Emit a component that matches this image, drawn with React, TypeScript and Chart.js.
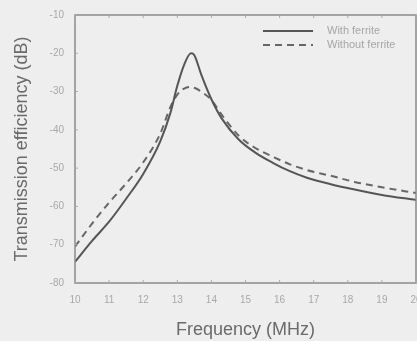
import React, { useEffect, useRef } from "react";
import { Chart, registerables } from "chart.js";

Chart.register(...registerables);

const freqs = [10, 10.5, 11, 11.5, 12, 12.5, 12.8, 13.0, 13.2, 13.4, 13.5, 13.7, 14.0, 14.3, 14.8, 15.3, 15.8, 16.3, 16.8, 17.5, 18.2, 19, 20];
const withFerrite = [-74.5, -69, -64, -58, -51.5, -43, -35.5, -28.5, -23, -20, -20.5, -25.5, -32, -37, -42.5, -46, -48.6, -50.8, -52.5, -54.2, -55.6, -57, -58.3];
const withoutFerrite = [-70.5, -64.5, -59, -54, -48.5, -41, -34, -30.8, -29.2, -28.8, -29, -30, -32.2, -36, -41.5, -44.8, -47, -49, -50.5, -52, -53.6, -55, -56.5];
const seriesNames = ["With ferrite", "Without ferrite"];
const xTicks = [10, 11, 12, 13, 14, 15, 16, 17, 18, 19, 20];
const yTicks = [-10, -20, -30, -40, -50, -60, -70, -80];

const FONT = "'Liberation Sans', Arial, sans-serif";

export default function App() {
  const ref = useRef<HTMLCanvasElement | null>(null);
  useEffect(() => {
    if (!ref.current) return;
    const framePlugin = {
      id: "frame",
      beforeDraw(chart: any) {
        const ctx = chart.ctx;
        ctx.save();
        ctx.fillStyle = "#eeeeee";
        ctx.fillRect(0, 0, chart.width, chart.height);
        ctx.restore();
      },
      afterDraw(chart: any) {
        const ctx = chart.ctx;
        const a = chart.chartArea;
        const xs = chart.scales.x;
        const ys = chart.scales.y;
        ctx.save();
        ctx.strokeStyle = "#8a8a8a";
        ctx.lineWidth = 1.5;
        ctx.strokeRect(a.left, a.top, a.right - a.left, a.bottom - a.top);
        ctx.lineWidth = 1;
        ctx.strokeStyle = "#aaaaaa";
        ctx.beginPath();
        xTicks.forEach((v) => {
          const px = xs.getPixelForValue(v);
          ctx.moveTo(px, a.bottom);
          ctx.lineTo(px, a.bottom - 3);
          ctx.moveTo(px, a.top);
          ctx.lineTo(px, a.top + 3);
        });
        yTicks.forEach((v) => {
          const py = ys.getPixelForValue(v);
          ctx.moveTo(a.left, py);
          ctx.lineTo(a.left + 3, py);
        });
        ctx.stroke();
        // legend
        const lx = 263, lw = 50;
        const rows = [31, 45];
        chart.data.datasets.forEach((ds: any, i: number) => {
          ctx.strokeStyle = ds.borderColor;
          ctx.lineWidth = 2;
          ctx.setLineDash(ds.borderDash || []);
          ctx.beginPath();
          ctx.moveTo(lx, rows[i]);
          ctx.lineTo(lx + lw, rows[i]);
          ctx.stroke();
          ctx.setLineDash([]);
          ctx.fillStyle = "#a6a6a6";
          ctx.font = "11px " + FONT;
          ctx.textBaseline = "middle";
          ctx.textAlign = "left";
          ctx.fillText(ds.label, 327, rows[i]);
        });
        ctx.restore();
      },
    };
    const chart = new Chart(ref.current, {
      type: "line",
      data: {
        datasets: [
          {
            label: seriesNames[0],
            data: freqs.map((f, i) => ({ x: f, y: withFerrite[i] })),
            borderColor: "#555555",
            borderWidth: 2,
            pointRadius: 0,
            tension: 0.4,
            cubicInterpolationMode: "monotone",
          },
          {
            label: seriesNames[1],
            data: freqs.map((f, i) => ({ x: f, y: withoutFerrite[i] })),
            borderColor: "#666666",
            borderWidth: 2,
            borderDash: [7, 5],
            pointRadius: 0,
            tension: 0.4,
            cubicInterpolationMode: "monotone",
          },
        ],
      },
      options: {
        animation: false,
        responsive: false,
        maintainAspectRatio: false,
        layout: { padding: { top: 15, right: 1, left: 0, bottom: 0 } },
        plugins: { legend: { display: false }, tooltip: { enabled: false } },
        scales: {
          x: {
            type: "linear",
            min: 10,
            max: 20,
            afterBuildTicks: (s: any) => { s.ticks = xTicks.map((v) => ({ value: v })); },
            afterFit: (s: any) => { s.paddingLeft = 0; s.paddingRight = 0; s.height = 58; },
            grid: { display: false, drawTicks: false },
            border: { display: false },
            ticks: { color: "#a8a8a8", font: { family: FONT, size: 10 }, padding: 11, maxRotation: 0, autoSkip: false },
            title: { display: true, text: "Frequency (MHz)", color: "#6a6a6a", font: { family: FONT, size: 18 }, padding: { top: 0, bottom: 0 } },
          },
          y: {
            type: "linear",
            min: -80,
            max: -10,
            afterBuildTicks: (s: any) => { s.ticks = yTicks.map((v) => ({ value: v })); },
            afterFit: (s: any) => { s.width = 75; s.paddingTop = 0; s.paddingBottom = 0; },
            grid: { display: false, drawTicks: false },
            border: { display: false },
            ticks: { color: "#a8a8a8", font: { family: FONT, size: 10 }, padding: 11, autoSkip: false },
            title: { display: true, text: "Transmission efficiency (dB)", color: "#6a6a6a", font: { family: FONT, size: 18 }, padding: { top: 11, bottom: 0 } },
          },
        },
      },
      plugins: [framePlugin],
    } as any);
    return () => chart.destroy();
  }, []);
  return (
    <div style={{ position: "fixed", left: 0, top: 0, width: 417, height: 341 }}>
      <canvas ref={ref} width={417} height={341} style={{ width: 417, height: 341, display: "block" }} />
    </div>
  );
}
